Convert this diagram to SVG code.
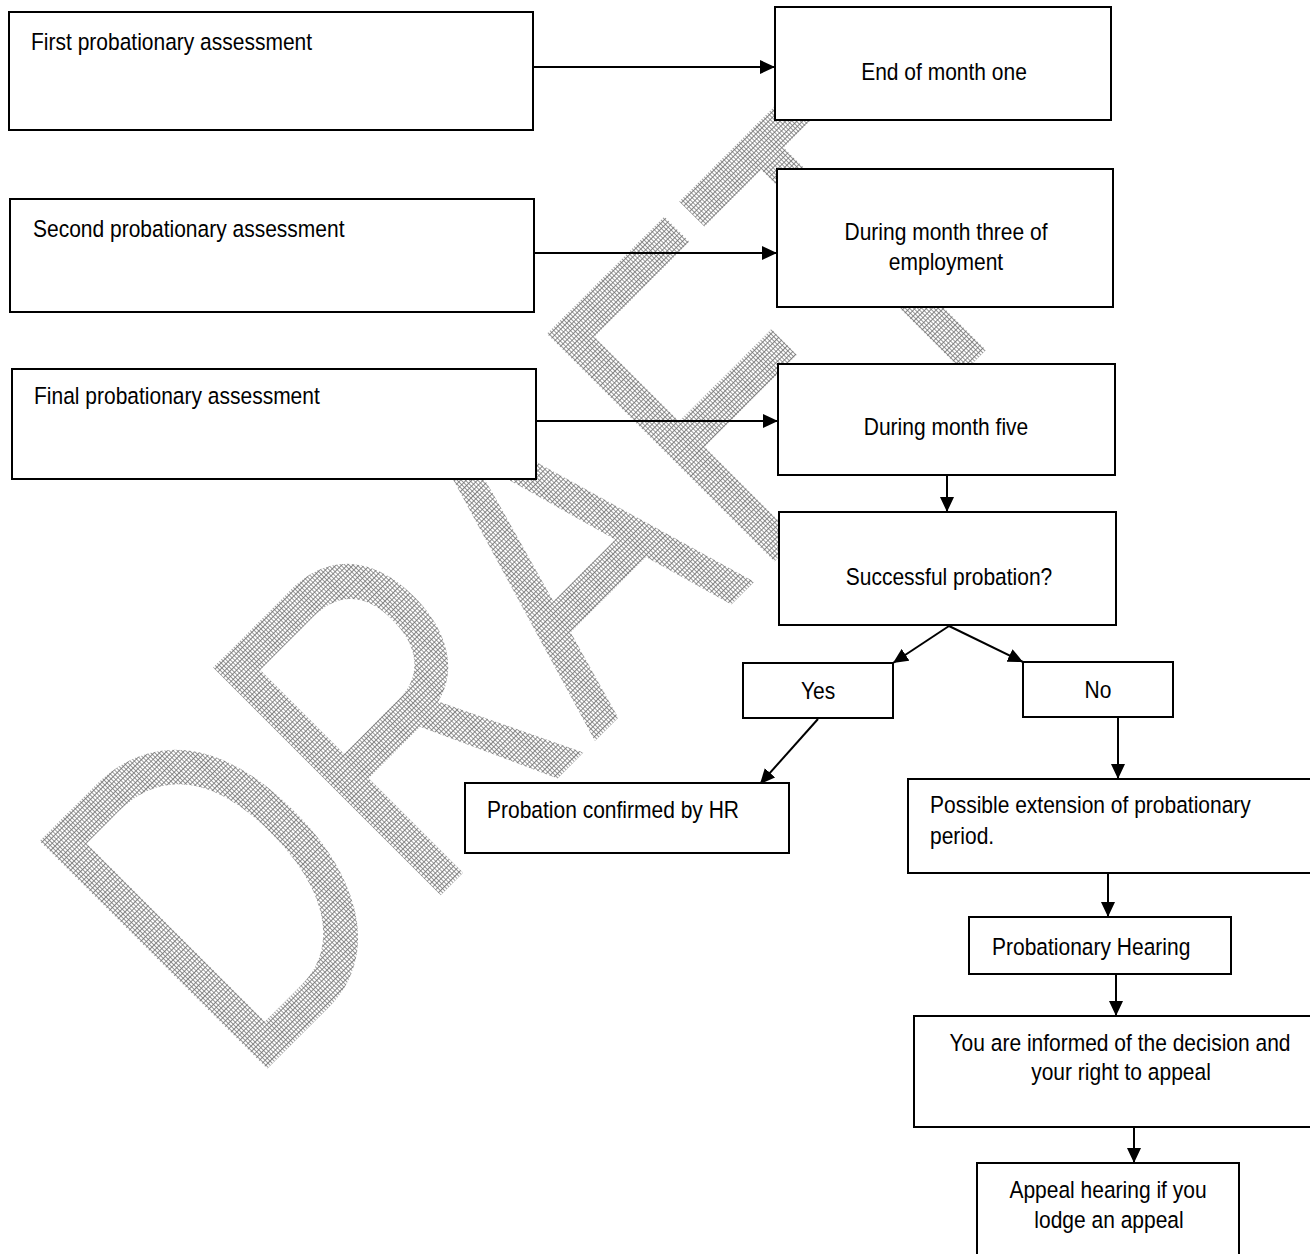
<svg xmlns="http://www.w3.org/2000/svg" width="1310" height="1254" viewBox="0 0 1310 1254">
<style>
.box{fill:#fff;stroke:#000;stroke-width:2}
.t{font-family:"Liberation Sans",Arial,sans-serif;font-size:23.5px;fill:#000}
.c{text-anchor:middle}
.con{stroke:#000;stroke-width:2;fill:none;marker-end:url(#ah)}
.wm{font-family:"Liberation Sans",Arial,sans-serif;font-size:468px;fill:url(#hatch);font-kerning:none}
</style>
<defs>
<marker id="ah" markerUnits="userSpaceOnUse" markerWidth="16" markerHeight="14" refX="15" refY="7" orient="auto">
<path d="M0,0 L15,7 L0,14 Z" fill="#000"/>
</marker>
<pattern id="hatch" width="4" height="4" patternUnits="userSpaceOnUse">
<path d="M0 0.5H4M0.5 0V4" stroke="#777" stroke-width="1"/>
</pattern>
</defs>
<rect width="1310" height="1254" fill="#fff"/>
<g id="watermark">
<text class="wm" transform="translate(266,1070) rotate(-45) scale(0.726,1)" x="-36" y="0">DRAFT</text>
</g>
<g id="connectors">
<path class="con" d="M533,67 H775"/>
<path class="con" d="M534,253 H777"/>
<path class="con" d="M536,421 H778"/>
<path class="con" d="M947,475 V512"/>
<path class="con" d="M949,626 L893,663"/>
<path class="con" d="M949,626 L1023,662"/>
<path class="con" d="M818,719 L760,784"/>
<path class="con" d="M1118,718 V779"/>
<path class="con" d="M1108,873 V917"/>
<path class="con" d="M1116,974 V1016"/>
<path class="con" d="M1134,1128 V1163"/>
</g>
<g id="n-first"><rect class="box" x="9" y="12" width="524" height="118"/><text class="t" transform="translate(31,50) scale(0.894,1)">First probationary assessment</text></g>
<g id="n-second"><rect class="box" x="10" y="199" width="524" height="113"/><text class="t" transform="translate(33,237) scale(0.894,1)">Second probationary assessment</text></g>
<g id="n-final"><rect class="box" x="12" y="369" width="524" height="110"/><text class="t" transform="translate(34,404) scale(0.894,1)">Final probationary assessment</text></g>
<g id="n-month1"><rect class="box" x="775" y="7" width="336" height="113"/><text class="t c" transform="translate(944,80) scale(0.894,1)">End of month one</text></g>
<g id="n-month3"><rect class="box" x="777" y="169" width="336" height="138"/><text class="t c" transform="translate(946,240) scale(0.894,1)">During month three of</text><text class="t c" transform="translate(946,270) scale(0.894,1)">employment</text></g>
<g id="n-month5"><rect class="box" x="778" y="364" width="337" height="111"/><text class="t c" transform="translate(946,435) scale(0.894,1)">During month five</text></g>
<g id="n-success"><rect class="box" x="779" y="512" width="337" height="113"/><text class="t c" transform="translate(949,585) scale(0.894,1)">Successful probation?</text></g>
<g id="n-yes"><rect class="box" x="743" y="663" width="150" height="55"/><text class="t c" transform="translate(818,699) scale(0.894,1)">Yes</text></g>
<g id="n-no"><rect class="box" x="1023" y="662" width="150" height="55"/><text class="t c" transform="translate(1098,698) scale(0.894,1)">No</text></g>
<g id="n-confirmed"><rect class="box" x="465" y="783" width="324" height="70"/><text class="t" transform="translate(487,818) scale(0.894,1)">Probation confirmed by HR</text></g>
<g id="n-extension"><rect class="box" x="908" y="779" width="410" height="94"/><text class="t" transform="translate(930,813) scale(0.894,1)">Possible extension of probationary</text><text class="t" transform="translate(930,844) scale(0.894,1)">period.</text></g>
<g id="n-hearing"><rect class="box" x="969" y="917" width="262" height="57"/><text class="t" transform="translate(992,955) scale(0.894,1)">Probationary Hearing</text></g>
<g id="n-informed"><rect class="box" x="914" y="1016" width="404" height="111"/><text class="t c" transform="translate(1120,1051) scale(0.894,1)">You are informed of the decision and</text><text class="t c" transform="translate(1121,1080) scale(0.894,1)">your right to appeal</text></g>
<g id="n-appeal"><rect class="box" x="977" y="1163" width="262" height="100"/><text class="t c" transform="translate(1108,1198) scale(0.894,1)">Appeal hearing if you</text><text class="t c" transform="translate(1109,1228) scale(0.894,1)">lodge an appeal</text></g>
</svg>
